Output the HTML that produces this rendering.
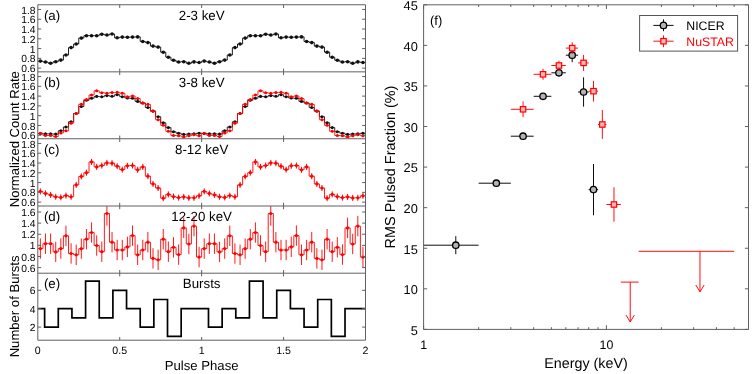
<!DOCTYPE html>
<html><head><meta charset="utf-8"><style>
html,body{margin:0;padding:0;background:#fff;}
svg{will-change:transform;text-rendering:geometricPrecision;}
body{width:753px;height:374px;position:relative;overflow:hidden;font-family:"Liberation Sans",sans-serif;}
</style></head><body>
<svg width="753" height="374" viewBox="0 0 753 374" style="position:absolute;left:0;top:0">
<clipPath id="cp0"><rect x="37.8" y="4.75" width="327.7" height="67.1"/></clipPath>
<clipPath id="cp1"><rect x="37.8" y="71.85" width="327.7" height="66.9"/></clipPath>
<clipPath id="cp2"><rect x="37.8" y="138.75" width="327.7" height="67.25"/></clipPath>
<clipPath id="cp3"><rect x="37.8" y="206.0" width="327.7" height="67.19999999999999"/></clipPath>
<clipPath id="cp4"><rect x="37.8" y="273.2" width="327.7" height="67.0"/></clipPath>
<g clip-path="url(#cp0)"><path d="M37.80,61.10 L42.92,61.10 L42.92,62.00 L48.04,62.00 L48.04,63.20 L53.16,63.20 L53.16,61.70 L58.28,61.70 L58.28,60.10 L63.40,60.10 L63.40,55.00 L68.52,55.00 L68.52,47.60 L73.64,47.60 L73.64,44.00 L78.76,44.00 L78.76,38.10 L83.88,38.10 L83.88,35.70 L89.00,35.70 L89.00,35.70 L94.12,35.70 L94.12,35.70 L99.24,35.70 L99.24,34.20 L104.36,34.20 L104.36,35.00 L109.48,35.00 L109.48,34.00 L114.60,34.00 L114.60,37.80 L119.72,37.80 L119.72,37.10 L124.85,37.10 L124.85,37.20 L129.97,37.20 L129.97,37.10 L135.09,37.10 L135.09,36.90 L140.21,36.90 L140.21,41.50 L145.33,41.50 L145.33,42.60 L150.45,42.60 L150.45,46.10 L155.57,46.10 L155.57,47.10 L160.69,47.10 L160.69,52.20 L165.81,52.20 L165.81,57.20 L170.93,57.20 L170.93,60.20 L176.05,60.20 L176.05,62.00 L181.17,62.00 L181.17,61.70 L186.29,61.70 L186.29,63.30 L191.41,63.30 L191.41,61.90 L196.53,61.90 L196.53,62.50 L201.65,62.50 L201.65,61.10 L206.77,61.10 L206.77,62.00 L211.89,62.00 L211.89,63.20 L217.01,63.20 L217.01,61.70 L222.13,61.70 L222.13,60.10 L227.25,60.10 L227.25,55.00 L232.37,55.00 L232.37,47.60 L237.49,47.60 L237.49,44.00 L242.61,44.00 L242.61,38.10 L247.73,38.10 L247.73,35.70 L252.85,35.70 L252.85,35.70 L257.97,35.70 L257.97,35.70 L263.09,35.70 L263.09,34.20 L268.21,34.20 L268.21,35.00 L273.33,35.00 L273.33,34.00 L278.45,34.00 L278.45,37.80 L283.57,37.80 L283.57,37.10 L288.70,37.10 L288.70,37.20 L293.82,37.20 L293.82,37.10 L298.94,37.10 L298.94,36.90 L304.06,36.90 L304.06,41.50 L309.18,41.50 L309.18,42.60 L314.30,42.60 L314.30,46.10 L319.42,46.10 L319.42,47.10 L324.54,47.10 L324.54,52.20 L329.66,52.20 L329.66,57.20 L334.78,57.20 L334.78,60.20 L339.90,60.20 L339.90,62.00 L345.02,62.00 L345.02,61.70 L350.14,61.70 L350.14,63.30 L355.26,63.30 L355.26,61.90 L360.38,61.90 L360.38,62.50 L365.50,62.50" fill="none" stroke="#111" stroke-width="0.95" stroke-linejoin="miter"/>
<g fill="#111"><circle cx="40.36" cy="61.10" r="1.8"/><circle cx="45.48" cy="62.00" r="1.8"/><circle cx="50.60" cy="63.20" r="1.8"/><circle cx="55.72" cy="61.70" r="1.8"/><circle cx="60.84" cy="60.10" r="1.8"/><circle cx="65.96" cy="55.00" r="1.8"/><circle cx="71.08" cy="47.60" r="1.8"/><circle cx="76.20" cy="44.00" r="1.8"/><circle cx="81.32" cy="38.10" r="1.8"/><circle cx="86.44" cy="35.70" r="1.8"/><circle cx="91.56" cy="35.70" r="1.8"/><circle cx="96.68" cy="35.70" r="1.8"/><circle cx="101.80" cy="34.20" r="1.8"/><circle cx="106.92" cy="35.00" r="1.8"/><circle cx="112.04" cy="34.00" r="1.8"/><circle cx="117.16" cy="37.80" r="1.8"/><circle cx="122.29" cy="37.10" r="1.8"/><circle cx="127.41" cy="37.20" r="1.8"/><circle cx="132.53" cy="37.10" r="1.8"/><circle cx="137.65" cy="36.90" r="1.8"/><circle cx="142.77" cy="41.50" r="1.8"/><circle cx="147.89" cy="42.60" r="1.8"/><circle cx="153.01" cy="46.10" r="1.8"/><circle cx="158.13" cy="47.10" r="1.8"/><circle cx="163.25" cy="52.20" r="1.8"/><circle cx="168.37" cy="57.20" r="1.8"/><circle cx="173.49" cy="60.20" r="1.8"/><circle cx="178.61" cy="62.00" r="1.8"/><circle cx="183.73" cy="61.70" r="1.8"/><circle cx="188.85" cy="63.30" r="1.8"/><circle cx="193.97" cy="61.90" r="1.8"/><circle cx="199.09" cy="62.50" r="1.8"/><circle cx="204.21" cy="61.10" r="1.8"/><circle cx="209.33" cy="62.00" r="1.8"/><circle cx="214.45" cy="63.20" r="1.8"/><circle cx="219.57" cy="61.70" r="1.8"/><circle cx="224.69" cy="60.10" r="1.8"/><circle cx="229.81" cy="55.00" r="1.8"/><circle cx="234.93" cy="47.60" r="1.8"/><circle cx="240.05" cy="44.00" r="1.8"/><circle cx="245.17" cy="38.10" r="1.8"/><circle cx="250.29" cy="35.70" r="1.8"/><circle cx="255.41" cy="35.70" r="1.8"/><circle cx="260.53" cy="35.70" r="1.8"/><circle cx="265.65" cy="34.20" r="1.8"/><circle cx="270.77" cy="35.00" r="1.8"/><circle cx="275.89" cy="34.00" r="1.8"/><circle cx="281.01" cy="37.80" r="1.8"/><circle cx="286.14" cy="37.10" r="1.8"/><circle cx="291.26" cy="37.20" r="1.8"/><circle cx="296.38" cy="37.10" r="1.8"/><circle cx="301.50" cy="36.90" r="1.8"/><circle cx="306.62" cy="41.50" r="1.8"/><circle cx="311.74" cy="42.60" r="1.8"/><circle cx="316.86" cy="46.10" r="1.8"/><circle cx="321.98" cy="47.10" r="1.8"/><circle cx="327.10" cy="52.20" r="1.8"/><circle cx="332.22" cy="57.20" r="1.8"/><circle cx="337.34" cy="60.20" r="1.8"/><circle cx="342.46" cy="62.00" r="1.8"/><circle cx="347.58" cy="61.70" r="1.8"/><circle cx="352.70" cy="63.30" r="1.8"/><circle cx="357.82" cy="61.90" r="1.8"/><circle cx="362.94" cy="62.50" r="1.8"/></g>
</g>
<g clip-path="url(#cp1)"><path d="M37.80,133.60 L42.92,133.60 L42.92,133.90 L48.04,133.90 L48.04,133.90 L53.16,133.90 L53.16,134.10 L58.28,134.10 L58.28,130.80 L63.40,130.80 L63.40,127.00 L68.52,127.00 L68.52,121.80 L73.64,121.80 L73.64,113.50 L78.76,113.50 L78.76,106.50 L83.88,106.50 L83.88,100.30 L89.00,100.30 L89.00,98.20 L94.12,98.20 L94.12,96.40 L99.24,96.40 L99.24,96.70 L104.36,96.70 L104.36,95.60 L109.48,95.60 L109.48,96.30 L114.60,96.30 L114.60,94.70 L119.72,94.70 L119.72,96.70 L124.85,96.70 L124.85,98.00 L129.97,98.00 L129.97,98.30 L135.09,98.30 L135.09,101.40 L140.21,101.40 L140.21,103.00 L145.33,103.00 L145.33,107.50 L150.45,107.50 L150.45,111.10 L155.57,111.10 L155.57,116.70 L160.69,116.70 L160.69,122.80 L165.81,122.80 L165.81,127.60 L170.93,127.60 L170.93,131.80 L176.05,131.80 L176.05,133.20 L181.17,133.20 L181.17,134.40 L186.29,134.40 L186.29,134.00 L191.41,134.00 L191.41,133.90 L196.53,133.90 L196.53,133.20 L201.65,133.20 L201.65,133.60 L206.77,133.60 L206.77,133.90 L211.89,133.90 L211.89,133.90 L217.01,133.90 L217.01,134.10 L222.13,134.10 L222.13,130.80 L227.25,130.80 L227.25,127.00 L232.37,127.00 L232.37,121.80 L237.49,121.80 L237.49,113.50 L242.61,113.50 L242.61,106.50 L247.73,106.50 L247.73,100.30 L252.85,100.30 L252.85,98.20 L257.97,98.20 L257.97,96.40 L263.09,96.40 L263.09,96.70 L268.21,96.70 L268.21,95.60 L273.33,95.60 L273.33,96.30 L278.45,96.30 L278.45,94.70 L283.57,94.70 L283.57,96.70 L288.70,96.70 L288.70,98.00 L293.82,98.00 L293.82,98.30 L298.94,98.30 L298.94,101.40 L304.06,101.40 L304.06,103.00 L309.18,103.00 L309.18,107.50 L314.30,107.50 L314.30,111.10 L319.42,111.10 L319.42,116.70 L324.54,116.70 L324.54,122.80 L329.66,122.80 L329.66,127.60 L334.78,127.60 L334.78,131.80 L339.90,131.80 L339.90,133.20 L345.02,133.20 L345.02,134.40 L350.14,134.40 L350.14,134.00 L355.26,134.00 L355.26,133.90 L360.38,133.90 L360.38,133.20 L365.50,133.20" fill="none" stroke="#111" stroke-width="0.9" stroke-linejoin="miter"/>
<g fill="#111"><circle cx="40.36" cy="133.60" r="1.55"/><circle cx="45.48" cy="133.90" r="1.55"/><circle cx="50.60" cy="133.90" r="1.55"/><circle cx="55.72" cy="134.10" r="1.55"/><circle cx="60.84" cy="130.80" r="1.55"/><circle cx="65.96" cy="127.00" r="1.55"/><circle cx="71.08" cy="121.80" r="1.55"/><circle cx="76.20" cy="113.50" r="1.55"/><circle cx="81.32" cy="106.50" r="1.55"/><circle cx="86.44" cy="100.30" r="1.55"/><circle cx="91.56" cy="98.20" r="1.55"/><circle cx="96.68" cy="96.40" r="1.55"/><circle cx="101.80" cy="96.70" r="1.55"/><circle cx="106.92" cy="95.60" r="1.55"/><circle cx="112.04" cy="96.30" r="1.55"/><circle cx="117.16" cy="94.70" r="1.55"/><circle cx="122.29" cy="96.70" r="1.55"/><circle cx="127.41" cy="98.00" r="1.55"/><circle cx="132.53" cy="98.30" r="1.55"/><circle cx="137.65" cy="101.40" r="1.55"/><circle cx="142.77" cy="103.00" r="1.55"/><circle cx="147.89" cy="107.50" r="1.55"/><circle cx="153.01" cy="111.10" r="1.55"/><circle cx="158.13" cy="116.70" r="1.55"/><circle cx="163.25" cy="122.80" r="1.55"/><circle cx="168.37" cy="127.60" r="1.55"/><circle cx="173.49" cy="131.80" r="1.55"/><circle cx="178.61" cy="133.20" r="1.55"/><circle cx="183.73" cy="134.40" r="1.55"/><circle cx="188.85" cy="134.00" r="1.55"/><circle cx="193.97" cy="133.90" r="1.55"/><circle cx="199.09" cy="133.20" r="1.55"/><circle cx="204.21" cy="133.60" r="1.55"/><circle cx="209.33" cy="133.90" r="1.55"/><circle cx="214.45" cy="133.90" r="1.55"/><circle cx="219.57" cy="134.10" r="1.55"/><circle cx="224.69" cy="130.80" r="1.55"/><circle cx="229.81" cy="127.00" r="1.55"/><circle cx="234.93" cy="121.80" r="1.55"/><circle cx="240.05" cy="113.50" r="1.55"/><circle cx="245.17" cy="106.50" r="1.55"/><circle cx="250.29" cy="100.30" r="1.55"/><circle cx="255.41" cy="98.20" r="1.55"/><circle cx="260.53" cy="96.40" r="1.55"/><circle cx="265.65" cy="96.70" r="1.55"/><circle cx="270.77" cy="95.60" r="1.55"/><circle cx="275.89" cy="96.30" r="1.55"/><circle cx="281.01" cy="94.70" r="1.55"/><circle cx="286.14" cy="96.70" r="1.55"/><circle cx="291.26" cy="98.00" r="1.55"/><circle cx="296.38" cy="98.30" r="1.55"/><circle cx="301.50" cy="101.40" r="1.55"/><circle cx="306.62" cy="103.00" r="1.55"/><circle cx="311.74" cy="107.50" r="1.55"/><circle cx="316.86" cy="111.10" r="1.55"/><circle cx="321.98" cy="116.70" r="1.55"/><circle cx="327.10" cy="122.80" r="1.55"/><circle cx="332.22" cy="127.60" r="1.55"/><circle cx="337.34" cy="131.80" r="1.55"/><circle cx="342.46" cy="133.20" r="1.55"/><circle cx="347.58" cy="134.40" r="1.55"/><circle cx="352.70" cy="134.00" r="1.55"/><circle cx="357.82" cy="133.90" r="1.55"/><circle cx="362.94" cy="133.20" r="1.55"/></g>
<path d="M37.80,133.30 L42.92,133.30 L42.92,135.50 L48.04,135.50 L48.04,135.50 L53.16,135.50 L53.16,136.50 L58.28,136.50 L58.28,132.90 L63.40,132.90 L63.40,130.80 L68.52,130.80 L68.52,123.20 L73.64,123.20 L73.64,113.50 L78.76,113.50 L78.76,104.20 L83.88,104.20 L83.88,99.60 L89.00,99.60 L89.00,95.00 L94.12,95.00 L94.12,90.80 L99.24,90.80 L99.24,92.70 L104.36,92.70 L104.36,93.20 L109.48,93.20 L109.48,92.60 L114.60,92.60 L114.60,92.40 L119.72,92.40 L119.72,93.20 L124.85,93.20 L124.85,96.70 L129.97,96.70 L129.97,96.00 L135.09,96.00 L135.09,98.60 L140.21,98.60 L140.21,103.00 L145.33,103.00 L145.33,104.40 L150.45,104.40 L150.45,111.10 L155.57,111.10 L155.57,119.70 L160.69,119.70 L160.69,125.30 L165.81,125.30 L165.81,131.30 L170.93,131.30 L170.93,135.50 L176.05,135.50 L176.05,135.70 L181.17,135.70 L181.17,136.90 L186.29,136.90 L186.29,135.70 L191.41,135.70 L191.41,134.80 L196.53,134.80 L196.53,135.70 L201.65,135.70 L201.65,133.30 L206.77,133.30 L206.77,135.50 L211.89,135.50 L211.89,135.50 L217.01,135.50 L217.01,136.50 L222.13,136.50 L222.13,132.90 L227.25,132.90 L227.25,130.80 L232.37,130.80 L232.37,123.20 L237.49,123.20 L237.49,113.50 L242.61,113.50 L242.61,104.20 L247.73,104.20 L247.73,99.60 L252.85,99.60 L252.85,95.00 L257.97,95.00 L257.97,90.80 L263.09,90.80 L263.09,92.70 L268.21,92.70 L268.21,93.20 L273.33,93.20 L273.33,92.60 L278.45,92.60 L278.45,92.40 L283.57,92.40 L283.57,93.20 L288.70,93.20 L288.70,96.70 L293.82,96.70 L293.82,96.00 L298.94,96.00 L298.94,98.60 L304.06,98.60 L304.06,103.00 L309.18,103.00 L309.18,104.40 L314.30,104.40 L314.30,111.10 L319.42,111.10 L319.42,119.70 L324.54,119.70 L324.54,125.30 L329.66,125.30 L329.66,131.30 L334.78,131.30 L334.78,135.50 L339.90,135.50 L339.90,135.70 L345.02,135.70 L345.02,136.90 L350.14,136.90 L350.14,135.70 L355.26,135.70 L355.26,134.80 L360.38,134.80 L360.38,135.70 L365.50,135.70" fill="none" stroke="#f00" stroke-width="0.85" stroke-linejoin="miter"/>
<g fill="#f00"><circle cx="40.36" cy="133.30" r="1.55"/><circle cx="45.48" cy="135.50" r="1.55"/><circle cx="50.60" cy="135.50" r="1.55"/><circle cx="55.72" cy="136.50" r="1.55"/><circle cx="60.84" cy="132.90" r="1.55"/><circle cx="65.96" cy="130.80" r="1.55"/><circle cx="71.08" cy="123.20" r="1.55"/><circle cx="76.20" cy="113.50" r="1.55"/><circle cx="81.32" cy="104.20" r="1.55"/><circle cx="86.44" cy="99.60" r="1.55"/><circle cx="91.56" cy="95.00" r="1.55"/><circle cx="96.68" cy="90.80" r="1.55"/><circle cx="101.80" cy="92.70" r="1.55"/><circle cx="106.92" cy="93.20" r="1.55"/><circle cx="112.04" cy="92.60" r="1.55"/><circle cx="117.16" cy="92.40" r="1.55"/><circle cx="122.29" cy="93.20" r="1.55"/><circle cx="127.41" cy="96.70" r="1.55"/><circle cx="132.53" cy="96.00" r="1.55"/><circle cx="137.65" cy="98.60" r="1.55"/><circle cx="142.77" cy="103.00" r="1.55"/><circle cx="147.89" cy="104.40" r="1.55"/><circle cx="153.01" cy="111.10" r="1.55"/><circle cx="158.13" cy="119.70" r="1.55"/><circle cx="163.25" cy="125.30" r="1.55"/><circle cx="168.37" cy="131.30" r="1.55"/><circle cx="173.49" cy="135.50" r="1.55"/><circle cx="178.61" cy="135.70" r="1.55"/><circle cx="183.73" cy="136.90" r="1.55"/><circle cx="188.85" cy="135.70" r="1.55"/><circle cx="193.97" cy="134.80" r="1.55"/><circle cx="199.09" cy="135.70" r="1.55"/><circle cx="204.21" cy="133.30" r="1.55"/><circle cx="209.33" cy="135.50" r="1.55"/><circle cx="214.45" cy="135.50" r="1.55"/><circle cx="219.57" cy="136.50" r="1.55"/><circle cx="224.69" cy="132.90" r="1.55"/><circle cx="229.81" cy="130.80" r="1.55"/><circle cx="234.93" cy="123.20" r="1.55"/><circle cx="240.05" cy="113.50" r="1.55"/><circle cx="245.17" cy="104.20" r="1.55"/><circle cx="250.29" cy="99.60" r="1.55"/><circle cx="255.41" cy="95.00" r="1.55"/><circle cx="260.53" cy="90.80" r="1.55"/><circle cx="265.65" cy="92.70" r="1.55"/><circle cx="270.77" cy="93.20" r="1.55"/><circle cx="275.89" cy="92.60" r="1.55"/><circle cx="281.01" cy="92.40" r="1.55"/><circle cx="286.14" cy="93.20" r="1.55"/><circle cx="291.26" cy="96.70" r="1.55"/><circle cx="296.38" cy="96.00" r="1.55"/><circle cx="301.50" cy="98.60" r="1.55"/><circle cx="306.62" cy="103.00" r="1.55"/><circle cx="311.74" cy="104.40" r="1.55"/><circle cx="316.86" cy="111.10" r="1.55"/><circle cx="321.98" cy="119.70" r="1.55"/><circle cx="327.10" cy="125.30" r="1.55"/><circle cx="332.22" cy="131.30" r="1.55"/><circle cx="337.34" cy="135.50" r="1.55"/><circle cx="342.46" cy="135.70" r="1.55"/><circle cx="347.58" cy="136.90" r="1.55"/><circle cx="352.70" cy="135.70" r="1.55"/><circle cx="357.82" cy="134.80" r="1.55"/><circle cx="362.94" cy="135.70" r="1.55"/></g>
</g>
<g clip-path="url(#cp2)"><path d="M37.80,191.40 L42.92,191.40 L42.92,193.40 L48.04,193.40 L48.04,194.90 L53.16,194.90 L53.16,196.80 L58.28,196.80 L58.28,197.40 L63.40,197.40 L63.40,195.60 L68.52,195.60 L68.52,196.80 L73.64,196.80 L73.64,184.90 L78.76,184.90 L78.76,176.40 L83.88,176.40 L83.88,172.70 L89.00,172.70 L89.00,161.90 L94.12,161.90 L94.12,166.90 L99.24,166.90 L99.24,165.50 L104.36,165.50 L104.36,162.90 L109.48,162.90 L109.48,163.20 L114.60,163.20 L114.60,166.20 L119.72,166.20 L119.72,169.60 L124.85,169.60 L124.85,165.80 L129.97,165.80 L129.97,165.50 L135.09,165.50 L135.09,169.80 L140.21,169.80 L140.21,166.90 L145.33,166.90 L145.33,176.20 L150.45,176.20 L150.45,183.90 L155.57,183.90 L155.57,188.00 L160.69,188.00 L160.69,198.20 L165.81,198.20 L165.81,194.40 L170.93,194.40 L170.93,196.60 L176.05,196.60 L176.05,197.60 L181.17,197.60 L181.17,196.90 L186.29,196.90 L186.29,197.90 L191.41,197.90 L191.41,197.80 L196.53,197.80 L196.53,195.80 L201.65,195.80 L201.65,191.40 L206.77,191.40 L206.77,193.40 L211.89,193.40 L211.89,194.90 L217.01,194.90 L217.01,196.80 L222.13,196.80 L222.13,197.40 L227.25,197.40 L227.25,195.60 L232.37,195.60 L232.37,196.80 L237.49,196.80 L237.49,184.90 L242.61,184.90 L242.61,176.40 L247.73,176.40 L247.73,172.70 L252.85,172.70 L252.85,161.90 L257.97,161.90 L257.97,166.90 L263.09,166.90 L263.09,165.50 L268.21,165.50 L268.21,162.90 L273.33,162.90 L273.33,163.20 L278.45,163.20 L278.45,166.20 L283.57,166.20 L283.57,169.60 L288.70,169.60 L288.70,165.80 L293.82,165.80 L293.82,165.50 L298.94,165.50 L298.94,169.80 L304.06,169.80 L304.06,166.90 L309.18,166.90 L309.18,176.20 L314.30,176.20 L314.30,183.90 L319.42,183.90 L319.42,188.00 L324.54,188.00 L324.54,198.20 L329.66,198.20 L329.66,194.40 L334.78,194.40 L334.78,196.60 L339.90,196.60 L339.90,197.60 L345.02,197.60 L345.02,196.90 L350.14,196.90 L350.14,197.90 L355.26,197.90 L355.26,197.80 L360.38,197.80 L360.38,195.80 L365.50,195.80" fill="none" stroke="#f00" stroke-width="0.9" stroke-linejoin="miter"/>
<path d="M40.36,188.40V194.40M45.48,190.40V196.40M50.60,191.90V197.90M55.72,193.80V199.80M60.84,194.40V200.40M65.96,192.60V198.60M71.08,193.80V199.80M76.20,181.90V187.90M81.32,173.40V179.40M86.44,169.70V175.70M91.56,158.90V164.90M96.68,163.90V169.90M101.80,162.50V168.50M106.92,159.90V165.90M112.04,160.20V166.20M117.16,163.20V169.20M122.29,166.60V172.60M127.41,162.80V168.80M132.53,162.50V168.50M137.65,166.80V172.80M142.77,163.90V169.90M147.89,173.20V179.20M153.01,180.90V186.90M158.13,185.00V191.00M163.25,195.20V201.20M168.37,191.40V197.40M173.49,193.60V199.60M178.61,194.60V200.60M183.73,193.90V199.90M188.85,194.90V200.90M193.97,194.80V200.80M199.09,192.80V198.80M204.21,188.40V194.40M209.33,190.40V196.40M214.45,191.90V197.90M219.57,193.80V199.80M224.69,194.40V200.40M229.81,192.60V198.60M234.93,193.80V199.80M240.05,181.90V187.90M245.17,173.40V179.40M250.29,169.70V175.70M255.41,158.90V164.90M260.53,163.90V169.90M265.65,162.50V168.50M270.77,159.90V165.90M275.89,160.20V166.20M281.01,163.20V169.20M286.14,166.60V172.60M291.26,162.80V168.80M296.38,162.50V168.50M301.50,166.80V172.80M306.62,163.90V169.90M311.74,173.20V179.20M316.86,180.90V186.90M321.98,185.00V191.00M327.10,195.20V201.20M332.22,191.40V197.40M337.34,193.60V199.60M342.46,194.60V200.60M347.58,193.90V199.90M352.70,194.90V200.90M357.82,194.80V200.80M362.94,192.80V198.80" stroke="#f00" stroke-width="1.0" fill="none"/>
<g fill="#f00"><circle cx="40.36" cy="191.40" r="1.6"/><circle cx="45.48" cy="193.40" r="1.6"/><circle cx="50.60" cy="194.90" r="1.6"/><circle cx="55.72" cy="196.80" r="1.6"/><circle cx="60.84" cy="197.40" r="1.6"/><circle cx="65.96" cy="195.60" r="1.6"/><circle cx="71.08" cy="196.80" r="1.6"/><circle cx="76.20" cy="184.90" r="1.6"/><circle cx="81.32" cy="176.40" r="1.6"/><circle cx="86.44" cy="172.70" r="1.6"/><circle cx="91.56" cy="161.90" r="1.6"/><circle cx="96.68" cy="166.90" r="1.6"/><circle cx="101.80" cy="165.50" r="1.6"/><circle cx="106.92" cy="162.90" r="1.6"/><circle cx="112.04" cy="163.20" r="1.6"/><circle cx="117.16" cy="166.20" r="1.6"/><circle cx="122.29" cy="169.60" r="1.6"/><circle cx="127.41" cy="165.80" r="1.6"/><circle cx="132.53" cy="165.50" r="1.6"/><circle cx="137.65" cy="169.80" r="1.6"/><circle cx="142.77" cy="166.90" r="1.6"/><circle cx="147.89" cy="176.20" r="1.6"/><circle cx="153.01" cy="183.90" r="1.6"/><circle cx="158.13" cy="188.00" r="1.6"/><circle cx="163.25" cy="198.20" r="1.6"/><circle cx="168.37" cy="194.40" r="1.6"/><circle cx="173.49" cy="196.60" r="1.6"/><circle cx="178.61" cy="197.60" r="1.6"/><circle cx="183.73" cy="196.90" r="1.6"/><circle cx="188.85" cy="197.90" r="1.6"/><circle cx="193.97" cy="197.80" r="1.6"/><circle cx="199.09" cy="195.80" r="1.6"/><circle cx="204.21" cy="191.40" r="1.6"/><circle cx="209.33" cy="193.40" r="1.6"/><circle cx="214.45" cy="194.90" r="1.6"/><circle cx="219.57" cy="196.80" r="1.6"/><circle cx="224.69" cy="197.40" r="1.6"/><circle cx="229.81" cy="195.60" r="1.6"/><circle cx="234.93" cy="196.80" r="1.6"/><circle cx="240.05" cy="184.90" r="1.6"/><circle cx="245.17" cy="176.40" r="1.6"/><circle cx="250.29" cy="172.70" r="1.6"/><circle cx="255.41" cy="161.90" r="1.6"/><circle cx="260.53" cy="166.90" r="1.6"/><circle cx="265.65" cy="165.50" r="1.6"/><circle cx="270.77" cy="162.90" r="1.6"/><circle cx="275.89" cy="163.20" r="1.6"/><circle cx="281.01" cy="166.20" r="1.6"/><circle cx="286.14" cy="169.60" r="1.6"/><circle cx="291.26" cy="165.80" r="1.6"/><circle cx="296.38" cy="165.50" r="1.6"/><circle cx="301.50" cy="169.80" r="1.6"/><circle cx="306.62" cy="166.90" r="1.6"/><circle cx="311.74" cy="176.20" r="1.6"/><circle cx="316.86" cy="183.90" r="1.6"/><circle cx="321.98" cy="188.00" r="1.6"/><circle cx="327.10" cy="198.20" r="1.6"/><circle cx="332.22" cy="194.40" r="1.6"/><circle cx="337.34" cy="196.60" r="1.6"/><circle cx="342.46" cy="197.60" r="1.6"/><circle cx="347.58" cy="196.90" r="1.6"/><circle cx="352.70" cy="197.90" r="1.6"/><circle cx="357.82" cy="197.80" r="1.6"/><circle cx="362.94" cy="195.80" r="1.6"/></g>
</g>
<g clip-path="url(#cp3)"><path d="M37.80,248.60 L42.92,248.60 L42.92,243.70 L48.04,243.70 L48.04,243.70 L53.16,243.70 L53.16,251.90 L58.28,251.90 L58.28,248.60 L63.40,248.60 L63.40,235.80 L68.52,235.80 L68.52,253.50 L73.64,253.50 L73.64,254.80 L78.76,254.80 L78.76,248.70 L83.88,248.70 L83.88,239.20 L89.00,239.20 L89.00,232.50 L94.12,232.50 L94.12,245.50 L99.24,245.50 L99.24,251.70 L104.36,251.70 L104.36,213.50 L109.48,213.50 L109.48,242.20 L114.60,242.20 L114.60,250.00 L119.72,250.00 L119.72,250.00 L124.85,250.00 L124.85,246.90 L129.97,246.90 L129.97,235.60 L135.09,235.60 L135.09,254.80 L140.21,254.80 L140.21,250.00 L145.33,250.00 L145.33,242.20 L150.45,242.20 L150.45,258.40 L155.57,258.40 L155.57,259.80 L160.69,259.80 L160.69,239.20 L165.81,239.20 L165.81,251.70 L170.93,251.70 L170.93,247.30 L176.05,247.30 L176.05,254.60 L181.17,254.60 L181.17,227.90 L186.29,227.90 L186.29,244.00 L191.41,244.00 L191.41,226.10 L196.53,226.10 L196.53,257.10 L201.65,257.10 L201.65,248.60 L206.77,248.60 L206.77,243.70 L211.89,243.70 L211.89,243.70 L217.01,243.70 L217.01,251.90 L222.13,251.90 L222.13,248.60 L227.25,248.60 L227.25,235.80 L232.37,235.80 L232.37,253.50 L237.49,253.50 L237.49,254.80 L242.61,254.80 L242.61,248.70 L247.73,248.70 L247.73,239.20 L252.85,239.20 L252.85,232.50 L257.97,232.50 L257.97,245.50 L263.09,245.50 L263.09,251.70 L268.21,251.70 L268.21,213.50 L273.33,213.50 L273.33,242.20 L278.45,242.20 L278.45,250.00 L283.57,250.00 L283.57,250.00 L288.70,250.00 L288.70,246.90 L293.82,246.90 L293.82,235.60 L298.94,235.60 L298.94,254.80 L304.06,254.80 L304.06,250.00 L309.18,250.00 L309.18,242.20 L314.30,242.20 L314.30,258.40 L319.42,258.40 L319.42,259.80 L324.54,259.80 L324.54,239.20 L329.66,239.20 L329.66,251.70 L334.78,251.70 L334.78,247.30 L339.90,247.30 L339.90,254.60 L345.02,254.60 L345.02,227.90 L350.14,227.90 L350.14,244.00 L355.26,244.00 L355.26,226.10 L360.38,226.10 L360.38,257.10 L365.50,257.10" fill="none" stroke="#f00" stroke-width="0.9" stroke-linejoin="miter"/>
<path d="M40.36,238.40V258.80M45.48,233.50V253.90M50.60,233.50V253.90M55.72,241.70V262.10M60.84,238.40V258.80M65.96,225.60V246.00M71.08,243.30V263.70M76.20,244.60V265.00M81.32,238.50V258.90M86.44,229.00V249.40M91.56,222.30V242.70M96.68,235.30V255.70M101.80,241.50V261.90M106.92,201.30V225.70M112.04,232.00V252.40M117.16,239.80V260.20M122.29,239.80V260.20M127.41,236.70V257.10M132.53,225.40V245.80M137.65,244.60V265.00M142.77,239.80V260.20M147.89,232.00V252.40M153.01,248.20V268.60M158.13,249.60V270.00M163.25,229.00V249.40M168.37,241.50V261.90M173.49,237.10V257.50M178.61,244.40V264.80M183.73,217.70V238.10M188.85,233.80V254.20M193.97,215.90V236.30M199.09,246.90V267.30M204.21,238.40V258.80M209.33,233.50V253.90M214.45,233.50V253.90M219.57,241.70V262.10M224.69,238.40V258.80M229.81,225.60V246.00M234.93,243.30V263.70M240.05,244.60V265.00M245.17,238.50V258.90M250.29,229.00V249.40M255.41,222.30V242.70M260.53,235.30V255.70M265.65,241.50V261.90M270.77,201.30V225.70M275.89,232.00V252.40M281.01,239.80V260.20M286.14,239.80V260.20M291.26,236.70V257.10M296.38,225.40V245.80M301.50,244.60V265.00M306.62,239.80V260.20M311.74,232.00V252.40M316.86,248.20V268.60M321.98,249.60V270.00M327.10,229.00V249.40M332.22,241.50V261.90M337.34,237.10V257.50M342.46,244.40V264.80M347.58,217.70V238.10M352.70,233.80V254.20M357.82,215.90V236.30M362.94,246.90V267.30" stroke="#f00" stroke-width="0.9" fill="none"/>
<g fill="#f00"><circle cx="40.36" cy="248.60" r="1.6"/><circle cx="45.48" cy="243.70" r="1.6"/><circle cx="50.60" cy="243.70" r="1.6"/><circle cx="55.72" cy="251.90" r="1.6"/><circle cx="60.84" cy="248.60" r="1.6"/><circle cx="65.96" cy="235.80" r="1.6"/><circle cx="71.08" cy="253.50" r="1.6"/><circle cx="76.20" cy="254.80" r="1.6"/><circle cx="81.32" cy="248.70" r="1.6"/><circle cx="86.44" cy="239.20" r="1.6"/><circle cx="91.56" cy="232.50" r="1.6"/><circle cx="96.68" cy="245.50" r="1.6"/><circle cx="101.80" cy="251.70" r="1.6"/><circle cx="106.92" cy="213.50" r="1.6"/><circle cx="112.04" cy="242.20" r="1.6"/><circle cx="117.16" cy="250.00" r="1.6"/><circle cx="122.29" cy="250.00" r="1.6"/><circle cx="127.41" cy="246.90" r="1.6"/><circle cx="132.53" cy="235.60" r="1.6"/><circle cx="137.65" cy="254.80" r="1.6"/><circle cx="142.77" cy="250.00" r="1.6"/><circle cx="147.89" cy="242.20" r="1.6"/><circle cx="153.01" cy="258.40" r="1.6"/><circle cx="158.13" cy="259.80" r="1.6"/><circle cx="163.25" cy="239.20" r="1.6"/><circle cx="168.37" cy="251.70" r="1.6"/><circle cx="173.49" cy="247.30" r="1.6"/><circle cx="178.61" cy="254.60" r="1.6"/><circle cx="183.73" cy="227.90" r="1.6"/><circle cx="188.85" cy="244.00" r="1.6"/><circle cx="193.97" cy="226.10" r="1.6"/><circle cx="199.09" cy="257.10" r="1.6"/><circle cx="204.21" cy="248.60" r="1.6"/><circle cx="209.33" cy="243.70" r="1.6"/><circle cx="214.45" cy="243.70" r="1.6"/><circle cx="219.57" cy="251.90" r="1.6"/><circle cx="224.69" cy="248.60" r="1.6"/><circle cx="229.81" cy="235.80" r="1.6"/><circle cx="234.93" cy="253.50" r="1.6"/><circle cx="240.05" cy="254.80" r="1.6"/><circle cx="245.17" cy="248.70" r="1.6"/><circle cx="250.29" cy="239.20" r="1.6"/><circle cx="255.41" cy="232.50" r="1.6"/><circle cx="260.53" cy="245.50" r="1.6"/><circle cx="265.65" cy="251.70" r="1.6"/><circle cx="270.77" cy="213.50" r="1.6"/><circle cx="275.89" cy="242.20" r="1.6"/><circle cx="281.01" cy="250.00" r="1.6"/><circle cx="286.14" cy="250.00" r="1.6"/><circle cx="291.26" cy="246.90" r="1.6"/><circle cx="296.38" cy="235.60" r="1.6"/><circle cx="301.50" cy="254.80" r="1.6"/><circle cx="306.62" cy="250.00" r="1.6"/><circle cx="311.74" cy="242.20" r="1.6"/><circle cx="316.86" cy="258.40" r="1.6"/><circle cx="321.98" cy="259.80" r="1.6"/><circle cx="327.10" cy="239.20" r="1.6"/><circle cx="332.22" cy="251.70" r="1.6"/><circle cx="337.34" cy="247.30" r="1.6"/><circle cx="342.46" cy="254.60" r="1.6"/><circle cx="347.58" cy="227.90" r="1.6"/><circle cx="352.70" cy="244.00" r="1.6"/><circle cx="357.82" cy="226.10" r="1.6"/><circle cx="362.94" cy="257.10" r="1.6"/></g>
</g>
<g clip-path="url(#cp4)"><path d="M37.80,308.70 L44.63,308.70 L44.63,327.10 L58.28,327.10 L58.28,308.70 L71.94,308.70 L71.94,317.90 L85.59,317.90 L85.59,281.10 L99.24,281.10 L99.24,317.90 L112.90,317.90 L112.90,290.30 L126.55,290.30 L126.55,308.70 L140.21,308.70 L140.21,327.10 L153.86,327.10 L153.86,299.50 L167.51,299.50 L167.51,336.30 L181.17,336.30 L181.17,308.70 L194.82,308.70 L194.82,308.70 L208.48,308.70 L208.48,327.10 L222.13,327.10 L222.13,308.70 L235.79,308.70 L235.79,317.90 L249.44,317.90 L249.44,281.10 L263.09,281.10 L263.09,317.90 L276.75,317.90 L276.75,290.30 L290.40,290.30 L290.40,308.70 L304.06,308.70 L304.06,327.10 L317.71,327.10 L317.71,299.50 L331.36,299.50 L331.36,336.30 L345.02,336.30 L345.02,308.70 L358.67,308.70 L358.67,308.70 L365.50,308.70" fill="none" stroke="#000" stroke-width="1.7"/>
</g>
<path d="M37.8,4.75H365.5V340.2H37.8ZM37.8,71.85H365.5M37.8,138.75H365.5M37.8,206.0H365.5M37.8,273.2H365.5" fill="none" stroke="#606060" stroke-width="1"/>
<path d="M119.72,4.75v3.2M119.72,71.85v-3.2M201.65,4.75v3.2M201.65,71.85v-3.2M283.57,4.75v3.2M283.57,71.85v-3.2M119.72,71.85v3.2M119.72,138.75v-3.2M201.65,71.85v3.2M201.65,138.75v-3.2M283.57,71.85v3.2M283.57,138.75v-3.2M119.72,138.75v3.2M119.72,206.0v-3.2M201.65,138.75v3.2M201.65,206.0v-3.2M283.57,138.75v3.2M283.57,206.0v-3.2M119.72,206.0v3.2M119.72,273.2v-3.2M201.65,206.0v3.2M201.65,273.2v-3.2M283.57,206.0v3.2M283.57,273.2v-3.2M119.72,273.2v3.2M119.72,340.2v-3.2M201.65,273.2v3.2M201.65,340.2v-3.2M283.57,273.2v3.2M283.57,340.2v-3.2M37.8,9.45h3.4M365.5,9.45h-3.4M37.8,19.23h3.4M365.5,19.23h-3.4M37.8,29.01h3.4M365.5,29.01h-3.4M37.8,38.79h3.4M365.5,38.79h-3.4M37.8,48.57h3.4M365.5,48.57h-3.4M37.8,58.35h3.4M365.5,58.35h-3.4M37.8,68.13h3.4M365.5,68.13h-3.4M37.8,76.55h3.4M365.5,76.55h-3.4M37.8,86.33h3.4M365.5,86.33h-3.4M37.8,96.11h3.4M365.5,96.11h-3.4M37.8,105.89h3.4M365.5,105.89h-3.4M37.8,115.67h3.4M365.5,115.67h-3.4M37.8,125.45h3.4M365.5,125.45h-3.4M37.8,135.23h3.4M365.5,135.23h-3.4M37.8,143.45h3.4M365.5,143.45h-3.4M37.8,153.23h3.4M365.5,153.23h-3.4M37.8,163.01h3.4M365.5,163.01h-3.4M37.8,172.79h3.4M365.5,172.79h-3.4M37.8,182.57h3.4M365.5,182.57h-3.4M37.8,192.35h3.4M365.5,192.35h-3.4M37.8,202.13h3.4M365.5,202.13h-3.4M37.8,212.00h3.4M365.5,212.00h-3.4M37.8,223.12h3.4M365.5,223.12h-3.4M37.8,234.24h3.4M365.5,234.24h-3.4M37.8,245.36h3.4M365.5,245.36h-3.4M37.8,256.48h3.4M365.5,256.48h-3.4M37.8,267.60h3.4M365.5,267.60h-3.4M37.8,327.10h3.4M365.5,327.10h-3.4M37.8,308.70h3.4M365.5,308.70h-3.4M37.8,290.30h3.4M365.5,290.30h-3.4" fill="none" stroke="#606060" stroke-width="1"/>
<g font-family="Liberation Sans, sans-serif" font-size="10.3" fill="#000" text-anchor="end"><text transform="translate(35.6,13.55) scale(1.0,1)">1.8</text><text transform="translate(35.6,23.33) scale(1.0,1)">1.6</text><text transform="translate(35.6,33.11) scale(1.0,1)">1.4</text><text transform="translate(35.6,42.89) scale(1.0,1)">1.2</text><text transform="translate(35.6,52.67) scale(1.0,1)">1</text><text transform="translate(35.6,62.45) scale(1.0,1)">0.8</text><text transform="translate(35.6,72.23) scale(1.0,1)">0.6</text><text transform="translate(35.6,80.65) scale(1.0,1)">1.8</text><text transform="translate(35.6,90.43) scale(1.0,1)">1.6</text><text transform="translate(35.6,100.21) scale(1.0,1)">1.4</text><text transform="translate(35.6,109.99) scale(1.0,1)">1.2</text><text transform="translate(35.6,119.77) scale(1.0,1)">1</text><text transform="translate(35.6,129.55) scale(1.0,1)">0.8</text><text transform="translate(35.6,139.33) scale(1.0,1)">0.6</text><text transform="translate(35.6,147.55) scale(1.0,1)">1.8</text><text transform="translate(35.6,157.33) scale(1.0,1)">1.6</text><text transform="translate(35.6,167.11) scale(1.0,1)">1.4</text><text transform="translate(35.6,176.89) scale(1.0,1)">1.2</text><text transform="translate(35.6,186.67) scale(1.0,1)">1</text><text transform="translate(35.6,196.45) scale(1.0,1)">0.8</text><text transform="translate(35.6,206.23) scale(1.0,1)">0.6</text><text transform="translate(35.6,216.10) scale(1.0,1)">1.6</text><text transform="translate(35.6,227.22) scale(1.0,1)">1.4</text><text transform="translate(35.6,238.34) scale(1.0,1)">1.2</text><text transform="translate(35.6,249.46) scale(1.0,1)">1</text><text transform="translate(35.6,260.58) scale(1.0,1)">0.8</text><text transform="translate(35.6,271.70) scale(1.0,1)">0.6</text><text transform="translate(35.6,331.20) scale(1.0,1)">2</text><text transform="translate(35.6,312.80) scale(1.0,1)">4</text><text transform="translate(35.6,294.40) scale(1.0,1)">6</text></g>
<g font-family="Liberation Sans, sans-serif" font-size="10.6" fill="#000" text-anchor="middle"><text x="37.80" y="354">0</text><text x="119.72" y="354">0.5</text><text x="201.65" y="354">1</text><text x="283.57" y="354">1.5</text><text x="365.50" y="354">2</text></g>
<g font-family="Liberation Sans, sans-serif" font-size="13.3" fill="#000"><text x="43.9" y="19.95">(a)</text><text x="201.65" y="19.95" text-anchor="middle">2-3 keV</text><text x="43.9" y="87.05">(b)</text><text x="201.65" y="87.05" text-anchor="middle">3-8 keV</text><text x="43.9" y="153.95">(c)</text><text x="201.65" y="153.95" text-anchor="middle">8-12 keV</text><text x="43.9" y="221.20">(d)</text><text x="201.65" y="221.20" text-anchor="middle">12-20 keV</text><text x="43.9" y="288.40">(e)</text><text x="201.65" y="288.40" text-anchor="middle">Bursts</text><text x="201.65" y="370.3" text-anchor="middle" font-size="13.15">Pulse Phase</text><text transform="translate(18.6,139.2) rotate(-90)" text-anchor="middle" font-size="13.1">Normalized Count Rate</text><text transform="translate(18.6,306.4) rotate(-90)" text-anchor="middle" font-size="13.1">Number of Bursts</text></g>
<clipPath id="cpr"><rect x="423.6" y="4.8" width="324.9" height="324.59999999999997"/></clipPath>
<path d="M423.6,4.8H748.5V329.4H423.6Z" fill="none" stroke="#606060" stroke-width="1"/>
<path d="M423.6,329.40h3.6M748.5,329.40h-3.6M423.6,288.82h3.6M748.5,288.82h-3.6M423.6,248.25h3.6M748.5,248.25h-3.6M423.6,207.67h3.6M748.5,207.67h-3.6M423.6,167.10h3.6M748.5,167.10h-3.6M423.6,126.52h3.6M748.5,126.52h-3.6M423.6,85.95h3.6M748.5,85.95h-3.6M423.6,45.37h3.6M748.5,45.37h-3.6M423.6,4.80h3.6M748.5,4.80h-3.6M423.60,329.4v-4.2M423.60,4.8v4.2M478.63,329.4v-2.2M478.63,4.8v2.2M510.82,329.4v-2.2M510.82,4.8v2.2M533.66,329.4v-2.2M533.66,4.8v2.2M551.37,329.4v-2.2M551.37,4.8v2.2M565.85,329.4v-2.2M565.85,4.8v2.2M578.08,329.4v-2.2M578.08,4.8v2.2M588.68,329.4v-2.2M588.68,4.8v2.2M598.04,329.4v-2.2M598.04,4.8v2.2M606.40,329.4v-4.2M606.40,4.8v4.2M661.43,329.4v-2.2M661.43,4.8v2.2M693.62,329.4v-2.2M693.62,4.8v2.2M716.46,329.4v-2.2M716.46,4.8v2.2M734.17,329.4v-2.2M734.17,4.8v2.2" fill="none" stroke="#606060" stroke-width="1"/>
<g font-family="Liberation Sans, sans-serif" font-size="12.8" fill="#000" text-anchor="end"><text x="417.8" y="334.70">5</text><text x="417.8" y="294.12">10</text><text x="417.8" y="253.55">15</text><text x="417.8" y="212.97">20</text><text x="417.8" y="172.40">25</text><text x="417.8" y="131.82">30</text><text x="417.8" y="91.25">35</text><text x="417.8" y="50.67">40</text><text x="417.8" y="10.10">45</text></g>
<g font-family="Liberation Sans, sans-serif" font-size="12.4" fill="#000" text-anchor="middle"><text x="423.60" y="349">1</text><text x="606.40" y="349">10</text></g>
<text font-family="Liberation Sans, sans-serif" font-size="13" x="430.0" y="24.6">(f)</text>
<text font-family="Liberation Sans, sans-serif" font-size="14.3" x="586" y="367.5" text-anchor="middle">Energy (keV)</text>
<text font-family="Liberation Sans, sans-serif" font-size="14.45" transform="translate(395.4,167) rotate(-90)" text-anchor="middle">RMS Pulsed Fraction (%)</text>
<g clip-path="url(#cpr)"><path d="M423.60,245.2H478.63M455.79,236.2V254.2M478.63,183.2H510.82M510.82,136.2H533.66M533.66,96.3H551.37M551.37,72.8H565.85M558.94,69.3V76.3M565.85,55.2H578.08M572.20,48.2V62.2M578.08,92.0H588.68M583.56,77.3V106.7M588.68,189.6H598.04M593.50,164.0V215.2" stroke="#000" stroke-width="0.95" fill="none"/><circle cx="455.79" cy="245.2" r="3.2" fill="#b4b4b4" stroke="#000" stroke-width="1.3"/><circle cx="496.34" cy="183.2" r="3.2" fill="#b4b4b4" stroke="#000" stroke-width="1.3"/><circle cx="523.06" cy="136.2" r="3.2" fill="#b4b4b4" stroke="#000" stroke-width="1.3"/><circle cx="543.01" cy="96.3" r="3.2" fill="#b4b4b4" stroke="#000" stroke-width="1.3"/><circle cx="558.94" cy="72.8" r="3.2" fill="#b4b4b4" stroke="#000" stroke-width="1.3"/><circle cx="572.20" cy="55.2" r="3.2" fill="#b4b4b4" stroke="#000" stroke-width="1.3"/><circle cx="583.56" cy="92.0" r="3.2" fill="#b4b4b4" stroke="#000" stroke-width="1.3"/><circle cx="593.50" cy="189.6" r="3.2" fill="#b4b4b4" stroke="#000" stroke-width="1.3"/><path d="M510.82,109.3H533.66M523.06,101.39999999999999V117.2M533.66,74.3H551.37M543.01,68.8V79.8M551.37,65.5H565.85M558.94,60.7V70.3M565.85,48.1H578.08M572.20,42.300000000000004V53.9M578.08,62.9H588.68M583.56,54.9V70.9M588.68,91.2H598.04M593.50,80.9V101.5M598.04,124.5H606.40M602.33,110.1V138.9M606.40,204.5H620.87M613.97,187.3V221.7M620.87,282.1H638.59M630.23,282.1V321.9M626.03,315.10L630.23,321.9L634.43,315.10M638.59,251.3H734.17M699.97,251.3V291.8M695.77,285.00L699.97,291.8L704.17,285.00" stroke="#f00" stroke-width="0.95" fill="none"/><rect x="520.36" y="106.60" width="5.4" height="5.4" fill="#ffb8b8" stroke="#f00" stroke-width="1.2"/><rect x="540.31" y="71.60" width="5.4" height="5.4" fill="#ffb8b8" stroke="#f00" stroke-width="1.2"/><rect x="556.24" y="62.80" width="5.4" height="5.4" fill="#ffb8b8" stroke="#f00" stroke-width="1.2"/><rect x="569.50" y="45.40" width="5.4" height="5.4" fill="#ffb8b8" stroke="#f00" stroke-width="1.2"/><rect x="580.86" y="60.20" width="5.4" height="5.4" fill="#ffb8b8" stroke="#f00" stroke-width="1.2"/><rect x="590.80" y="88.50" width="5.4" height="5.4" fill="#ffb8b8" stroke="#f00" stroke-width="1.2"/><rect x="599.63" y="121.80" width="5.4" height="5.4" fill="#ffb8b8" stroke="#f00" stroke-width="1.2"/><rect x="611.27" y="201.80" width="5.4" height="5.4" fill="#ffb8b8" stroke="#f00" stroke-width="1.2"/></g>
<rect x="639.6" y="15.5" width="98" height="35.6" fill="#fff" stroke="#555" stroke-width="1"/>
<path d="M653.4,25.4H673.6M663.5,19.4V31.2" stroke="#000" stroke-width="0.95"/><circle cx="663.5" cy="25.4" r="3.2" fill="#b4b4b4" stroke="#000" stroke-width="1.3"/>
<path d="M653.4,41.2H673.6M663.5,35.4V47.2" stroke="#f00" stroke-width="0.95"/><rect x="660.8" y="38.5" width="5.4" height="5.4" fill="#ffb8b8" stroke="#f00" stroke-width="1.2"/>
<text font-family="Liberation Sans, sans-serif" font-size="12.3" x="686.3" y="30.3">NICER</text>
<text font-family="Liberation Sans, sans-serif" font-size="12.3" x="686.3" y="46.2" fill="#f00">NuSTAR</text>
</svg>
</body></html>
